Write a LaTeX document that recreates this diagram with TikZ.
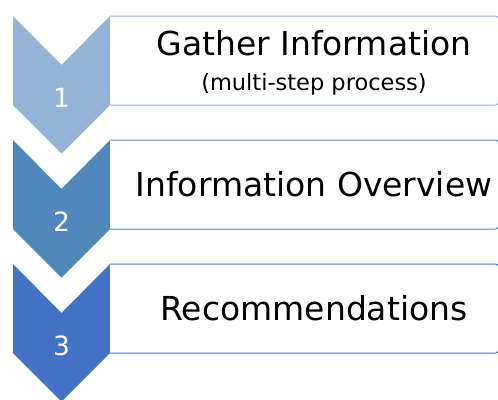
\documentclass[tikz,border=0pt]{standalone}
\usepackage{fontspec}
\setmainfont{DejaVu Sans}
\definecolor{cA}{HTML}{95B3D7}
\definecolor{cB}{HTML}{4F87BA}
\definecolor{cC}{HTML}{4472C4}
\tikzset{
  chev/.style={fill=#1, draw=none},
  stepbox/.style={draw=#1, line width=1pt, fill=white},
  num/.style={text=white, font=\fontsize{26.5}{30}\selectfont, inner sep=0pt, anchor=base},
  title/.style={text=black, font=\fontsize{33}{38}\selectfont, inner sep=0pt, anchor=base},
  sub/.style={text=black, font=\fontsize{22.5}{26}\selectfont, inner sep=0pt, anchor=base}
}
\begin{document}
\begin{tikzpicture}[x=1pt,y=-1pt]
\useasboundingbox (0,0) rectangle (498,399);
\foreach \t/\c/\n in {16/cA/1,140/cB/2,264/cC/3}{
  \fill[chev=\c] (13,\t) -- (61.5,\t+49) -- (110,\t) -- (110,\t+89) -- (61.5,\t+137.5) -- (13,\t+89) -- cycle;
  \draw[stepbox=\c] (110,\t) [rounded corners=3pt] -- (498.6,\t) -- (498.6,\t+89) [sharp corners] -- (110,\t+89);
  \node[num] (n\n) at (61.5,\t+91) {\n};
}
\node[title] (t1) at (314,55.5) {Gather Information};
\node[sub] (s1) at (314,90) {(multi-step process)};
\node[title] (t2) at (314,196) {Information Overview};
\node[title] (t3) at (314,320) {Recommendations};
\end{tikzpicture}
\end{document}
